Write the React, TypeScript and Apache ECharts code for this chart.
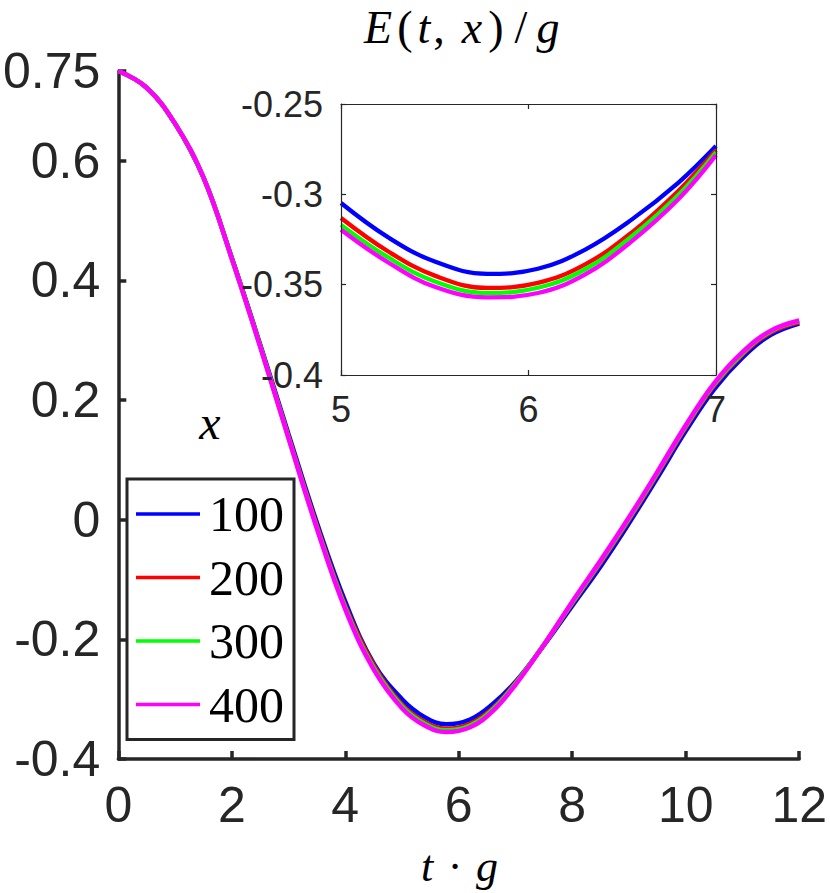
import React, { useEffect, useRef } from "react";
import * as echarts from "echarts";

// ---- data ----
const tMain = [0, 0.5, 1, 1.5, 2, 2.5, 3, 3.5, 4, 4.5, 5, 5.4, 5.78, 6.2, 6.6, 7, 7.5, 8, 8.5, 9, 9.5, 10, 10.5, 11, 11.5, 12];
const e100 = [0.75, 0.722, 0.662, 0.572, 0.438, 0.293, 0.143, -0.005, -0.137, -0.24, -0.3, -0.33, -0.342, -0.334, -0.308, -0.271, -0.21, -0.144, -0.078, -0.006, 0.07, 0.148, 0.218, 0.271, 0.309, 0.328];
const e200 = [0.75, 0.722, 0.662, 0.572, 0.437, 0.291, 0.139, -0.01, -0.144, -0.243, -0.309, -0.338, -0.3495, -0.341, -0.315, -0.273, -0.209, -0.14, -0.072, 0.0, 0.076, 0.154, 0.224, 0.276, 0.313, 0.33];
const e300 = [0.75, 0.722, 0.662, 0.572, 0.436, 0.29, 0.137, -0.013, -0.147, -0.247, -0.312, -0.341, -0.352, -0.344, -0.317, -0.274, -0.209, -0.139, -0.07, 0.002, 0.078, 0.156, 0.226, 0.278, 0.315, 0.332];
const e400 = [0.75, 0.722, 0.662, 0.572, 0.436, 0.289, 0.136, -0.015, -0.15, -0.25, -0.315, -0.344, -0.355, -0.347, -0.32, -0.276, -0.209, -0.137, -0.068, 0.004, 0.08, 0.158, 0.228, 0.28, 0.316, 0.333];

const tInset = [5, 5.25, 5.5, 5.78, 6.05, 6.3, 6.55, 6.8, 7];
const i100 = [-0.3048, -0.3237, -0.3372, -0.344, -0.3412, -0.3307, -0.314, -0.2935, -0.2733];
const i200 = [-0.3131, -0.3315, -0.345, -0.3518, -0.349, -0.3389, -0.3212, -0.298, -0.2756];
const i300 = [-0.3169, -0.3348, -0.3482, -0.3546, -0.3517, -0.3416, -0.3233, -0.3002, -0.2767];
const i400 = [-0.3196, -0.3376, -0.3512, -0.357, -0.3546, -0.3444, -0.326, -0.3026, -0.2783];

const seriesNames = ["100", "200", "300", "400"];
const seriesColors = ["#0000ff", "#ff0000", "#00ff00", "#ff00ff"];
const mainValues = [e100, e200, e300, e400];
const insetValues = [i100, i200, i300, i400];

const SANS = '"Liberation Sans", Arial, Helvetica, sans-serif';
const SERIF = '"Liberation Serif", "Times New Roman", serif';
const AX = "#262626";

// title glyphs: [char, centerX, italic]
const titleGlyphs: [string, number, boolean][] = [
  ["E", 378, true],
  ["(", 405, false],
  ["t", 424, true],
  [",", 439, false],
  ["x", 472, true],
  [")", 496, false],
  ["/", 521, false],
  ["g", 548, true],
];
const xNameGlyphs: [string, number, boolean][] = [
  ["t", 427, true],
  ["\u00b7", 455, false],
  ["g", 487, true],
];

function glyphText(ch: string, x: number, y: number, italic: boolean, size: number) {
  return {
    type: "text",
    x,
    y,
    z: 20,
    style: {
      text: ch,
      fill: "#000",
      fontSize: size,
      fontFamily: SERIF,
      fontStyle: italic ? "italic" : "normal",
      align: "center",
      verticalAlign: "middle",
      textAlign: "center",
      textVerticalAlign: "middle",
    },
  };
}

export default function App() {
  const ref = useRef<HTMLDivElement>(null);
  useEffect(() => {
    if (!ref.current) return;
    const chart = echarts.init(ref.current, null, { renderer: "svg" });

    const mainSeries = seriesNames.map((name, k) => ({
      name,
      type: "line",
      xAxisIndex: 0,
      yAxisIndex: 0,
      showSymbol: false,
      smooth: 0.4,
      z: 2 + k * 0.1,
      color: seriesColors[k],
      lineStyle: { color: seriesColors[k], width: 4.5 },
      data: tMain.map((t, i) => [t, mainValues[k][i]]),
    }));
    const insetSeries = seriesNames.map((name, k) => ({
      name,
      type: "line",
      xAxisIndex: 1,
      yAxisIndex: 1,
      showSymbol: false,
      smooth: 0.4,
      z: 5 + k * 0.1,
      color: seriesColors[k],
      lineStyle: { color: seriesColors[k], width: 4.3 },
      data: tInset.map((t, i) => [t, insetValues[k][i]]),
    }));

    const insetAxisCommon = {
      axisLine: { onZero: false, lineStyle: { color: AX, width: 1.2 } },
      axisTick: { inside: true, length: 5, lineStyle: { color: AX, width: 1.2 } },
      splitLine: { show: false },
      z: 10,
    };

    const option: any = {
      animation: false,
      backgroundColor: "#ffffff",
      grid: [
        { left: 116, top: 71, width: 687, height: 688 },
        { left: 341, top: 104, width: 375, height: 271, show: true, backgroundColor: "#ffffff", borderWidth: 0 },
      ],
      xAxis: [
        {
          type: "value",
          gridIndex: 0,
          min: 0,
          max: 12,
          interval: 2,
          axisLine: { onZero: false, lineStyle: { color: AX, width: 3.5 } },
          axisTick: { inside: true, length: 8, lineStyle: { color: AX, width: 3.5 } },
          axisLabel: { margin: 21, fontSize: 50, color: AX, fontFamily: SANS },
          splitLine: { show: false },
        },
        {
          type: "value",
          gridIndex: 1,
          min: 5,
          max: 7,
          interval: 1,
          position: "bottom",
          axisLabel: { margin: 16, fontSize: 36, color: AX, fontFamily: SANS },
          ...insetAxisCommon,
        },
        {
          type: "value",
          gridIndex: 1,
          min: 5,
          max: 7,
          interval: 1,
          position: "top",
          axisLabel: { show: false },
          ...insetAxisCommon,
        },
      ],
      yAxis: [
        {
          type: "value",
          gridIndex: 0,
          min: -0.4,
          max: 0.75,
          interval: 0.2,
          axisLine: { onZero: false, lineStyle: { color: AX, width: 3.5 } },
          axisTick: { inside: true, length: 8, lineStyle: { color: AX, width: 3.5 } },
          axisLabel: { margin: 18, fontSize: 50, color: AX, fontFamily: SANS },
          splitLine: { show: false },
        },
        {
          type: "value",
          gridIndex: 1,
          min: -0.4,
          max: -0.25,
          interval: 0.05,
          position: "left",
          axisLabel: { margin: 18, fontSize: 36, color: AX, fontFamily: SANS },
          ...insetAxisCommon,
        },
        {
          type: "value",
          gridIndex: 1,
          min: -0.4,
          max: -0.25,
          interval: 0.05,
          position: "right",
          axisLabel: { show: false },
          ...insetAxisCommon,
        },
      ],
      legend: {
        data: seriesNames,
        orient: "vertical",
        left: 127,
        top: 479,
        icon: "rect",
        itemWidth: 64,
        itemHeight: 3.5,
        itemGap: 13.5,
        padding: [10, 10, 10, 9],
        borderColor: AX,
        borderWidth: 3,
        backgroundColor: "#ffffff",
        selectedMode: false,
        textStyle: { fontSize: 50, fontFamily: SERIF, color: "#000", padding: [0, 0, 0, 4] },
        z: 15,
      },
      graphic: [
        ...titleGlyphs.map(([c, x, it]) => glyphText(c, x, 27, it, 46)),
        ...xNameGlyphs.map(([c, x, it]) => glyphText(c, x, 866, it, 44)),
        glyphText("x", 210, 422, true, 48),
      ],
      series: [...mainSeries, ...insetSeries],
    };

    chart.setOption(option);
    return () => chart.dispose();
  }, []);

  return (
    <div
      ref={ref}
      style={{ position: "absolute", left: 0, top: 0, width: 830, height: 893, background: "#fff" }}
    />
  );
}
